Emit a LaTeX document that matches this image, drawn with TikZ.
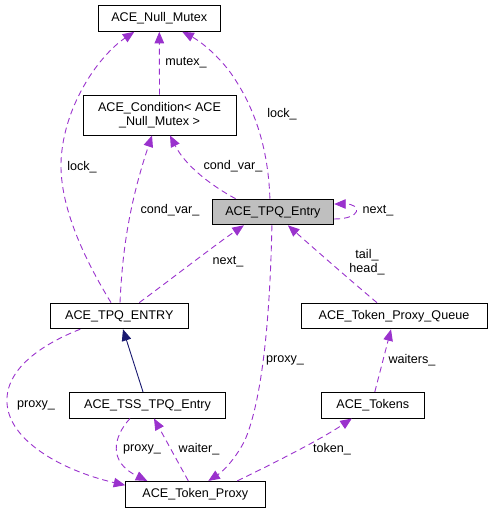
\documentclass[tikz,border=0pt]{standalone}
\usepackage{fontspec}
\setmainfont{Liberation Sans}
\usetikzlibrary{arrows.meta,calc}
\definecolor{edgepurple}{HTML}{9A32CD}
\definecolor{inhnavy}{HTML}{191970}
\definecolor{nodegray}{HTML}{BFBFBF}
\begin{document}
\begin{tikzpicture}[x=1pt,y=-1pt,
  every node/.style={font=\fontsize{12.6}{14.5}\selectfont, inner sep=0pt},
  cls/.style={draw=black, line width=0.9pt, fill=white, minimum height=25.7pt, align=center},
  uses/.style={draw=edgepurple, line width=0.9pt, dash pattern=on 6pt off 4pt, -{Triangle[length=11.5pt,width=9.5pt]}},
  inh/.style={draw=inhnavy, line width=0.9pt, -{Triangle[length=11.5pt,width=9.5pt]}},
  lbl/.style={text=black}]
\useasboundingbox (0,0) rectangle (492,513);
% nodes
\node[cls, minimum width=121.3pt] (nullmutex) at (159.3,18.5) {ACE\_Null\_Mutex};
\node[cls, minimum width=153pt, minimum height=40pt] (cond) at (159.5,115) {ACE\_Condition< ACE\\\_Null\_Mutex >};
\node[cls, fill=nodegray, minimum width=121.7pt] (tpqentry) at (272.9,212) {ACE\_TPQ\_Entry};
\node[cls, minimum width=138pt] (tpq) at (119.3,315.9) {ACE\_TPQ\_ENTRY};
\node[cls, minimum width=186pt] (queue) at (394,316) {ACE\_Token\_Proxy\_Queue};
\node[cls, minimum width=156.4pt] (tss) at (147.5,405.2) {ACE\_TSS\_TPQ\_Entry};
\node[cls, minimum width=103pt] (tokens) at (372.8,405.2) {ACE\_Tokens};
\node[cls, minimum width=139.3pt] (proxy) at (195.3,494.2) {ACE\_Token\_Proxy};
% edges
\draw[uses] ([xshift=-8.3pt]tpq.north) .. controls (85,260) and (55,200) .. (62,150)
  .. controls (68,100) and (100,55) .. ([xshift=-25pt]nullmutex.south);
\node[lbl] (l1) at (82,167) {lock\_};
\draw[uses] (cond.north) -- (nullmutex.south);
\node[lbl] (l2) at (186,63) {mutex\_};
\draw[uses] ([xshift=-3pt]tpqentry.north) .. controls (268,140) and (250,100) .. (230,72)
  .. controls (215,52) and (198,40) .. ([xshift=23pt]nullmutex.south);
\node[lbl] (l3) at (282,114) {lock\_};
\draw[uses] ([xshift=24pt]tpqentry.north west) .. controls (210,185) and (185,165) .. ([xshift=10.5pt]cond.south);
\node[lbl] (l4) at (233,166) {cond\_var\_};
\draw[uses] ([xshift=0.7pt]tpq.north) .. controls (122,260) and (127,210) .. ([xshift=-7.5pt]cond.south);
\node[lbl] (l5) at (170,210) {cond\_var\_};
\draw[uses] ([xshift=20pt]tpq.north) .. controls (170,280) and (215,245) .. ([xshift=-29pt]tpqentry.south);
\node[lbl] (l6) at (228,262) {next\_};
\draw[uses] ([yshift=-7pt]tpqentry.east) .. controls (362,219) and (362,204) .. ([yshift=8pt]tpqentry.east);
\node[lbl] (l7) at (378,211) {next\_};
\draw[uses] ([xshift=-17pt]queue.north) .. controls (350,280) and (310,245) .. ([xshift=15pt]tpqentry.south);
\node[lbl, align=center] (l8) at (367,262) {tail\_\\head\_};
\draw[uses] ([xshift=-1pt]tpqentry.south) .. controls (270,320) and (262,400) .. (245,440)
  .. controls (235,460) and (222,472) .. ([xshift=13pt]proxy.north);
\node[lbl] (l9) at (285,360) {proxy\_};
\draw[uses] ([xshift=2pt]tokens.north) -- ([xshift=-3pt]queue.south);
\node[lbl] (l10) at (412,360) {waiters\_};
\draw[inh] ([xshift=-4.5pt]tss.north) -- ([xshift=3.7pt]tpq.south);
\draw[uses] ([xshift=-39pt]tpq.south) .. controls (40,345) and (5,370) .. (7,403)
  .. controls (9,440) and (60,470) .. ([yshift=9pt]proxy.west);
\node[lbl] (l12) at (36,405) {proxy\_};
\draw[uses] ([xshift=-17.5pt]tss.south) .. controls (113,437) and (108,462) .. ([xshift=-48pt]proxy.north);
\node[lbl] (l13) at (142,449) {proxy\_};
\draw[uses] ([xshift=-7pt]proxy.north) -- ([xshift=6.5pt]tss.south);
\node[lbl] (l14) at (199,449) {waiter\_};
\draw[uses] ([xshift=42pt]proxy.north) .. controls (270,465) and (320,440) .. ([xshift=-21pt]tokens.south);
\node[lbl] (l15) at (332,449) {token\_};
\end{tikzpicture}
\end{document}
